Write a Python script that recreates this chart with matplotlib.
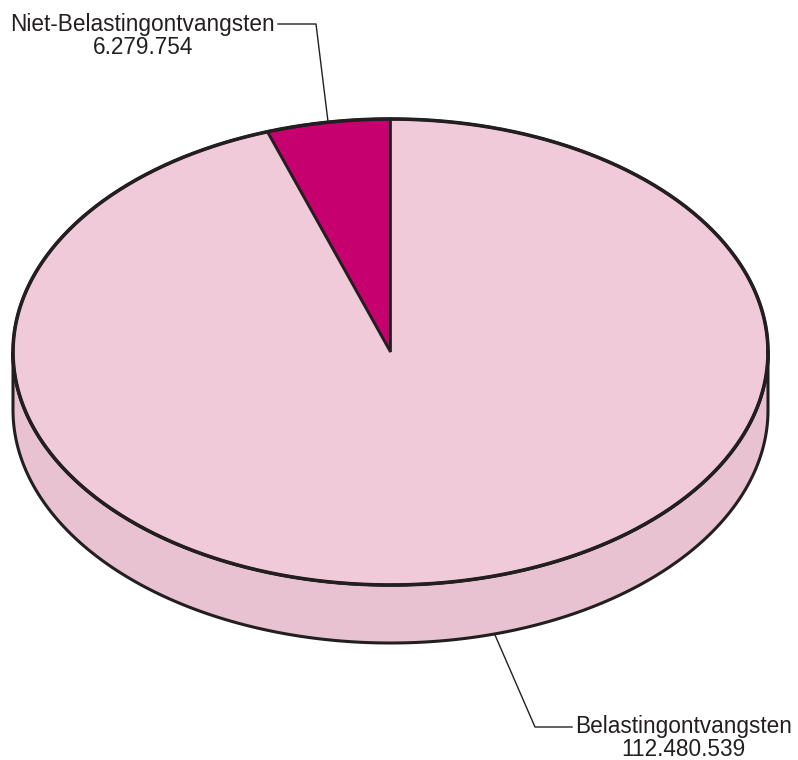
import numpy as np
import matplotlib
matplotlib.use('Agg')
import matplotlib.pyplot as plt
from matplotlib.patches import Polygon

labels = ['Niet-Belastingontvangsten', 'Belastingontvangsten']
values = [6279754, 112480539]
value_text = ['6.279.754', '112.480.539']
top_colors = ['#C6006F', '#F0CAD8']
side_color = '#E8C2D0'
edge = '#231F20'

# ellipse geometry in pixels
cx, cy = 390.5, 352
rx, ry = 377.5, 233
depth = 58

def pt(theta, dz=0):
    return cx + rx * np.cos(theta), cy - ry * np.sin(theta) + dz

fig = plt.figure(figsize=(7.98, 7.60), dpi=100)
ax = fig.add_axes([0, 0, 1, 1])
ax.set_xlim(0, 798)
ax.set_ylim(760, 0)
ax.axis('off')

# side (front half of the cylinder)
t = np.linspace(np.pi, 2 * np.pi, 300)
top_arc = np.column_stack(pt(t))
bot_arc = np.column_stack(pt(t[::-1], depth))
side = Polygon(np.vstack([top_arc, bot_arc]), closed=True, fc=side_color,
               ec=edge, lw=2.2, joinstyle='round')
ax.add_patch(side)

# top face wedges, starting at 12 o'clock going counterclockwise
fracs = np.array(values) / sum(values)
start = np.pi / 2
mids = []
for f, c in zip(fracs, top_colors):
    end = start + f * 2 * np.pi
    tt = np.linspace(start, end, 400)
    xs, ys = pt(tt)
    poly = np.vstack([[cx, cy], np.column_stack([xs, ys])])
    ax.add_patch(Polygon(poly, closed=True, fc=c, ec=edge, lw=2.0, joinstyle='miter'))
    mids.append((start + end) / 2)
    start = end

# outer rim on top
tt = np.linspace(0, 2 * np.pi, 600)
xs, ys = pt(tt)
ax.plot(xs, ys, color=edge, lw=2.6)

fs = 16.3
fam = ['Liberation Sans', 'DejaVu Sans']

# leader for the small slice
ax0, ay0 = pt(mids[0])
ax.plot([ax0, 316, 278], [ay0, 24, 24], color=edge, lw=1.0)
ax.text(275, 24, labels[0], ha='right', va='center', fontsize=fs, family=fam, color=edge)
ax.text(143, 47, value_text[0], ha='center', va='center', fontsize=fs, family=fam, color=edge)

# leader for the big slice (bottom of the side)
bx0, by0 = pt(np.deg2rad(286), depth)
ax.plot([bx0, 535, 572], [by0, 727, 727], color=edge, lw=1.0)
ax.text(575, 727, labels[1], ha='left', va='center', fontsize=fs, family=fam, color=edge)
ax.text(683, 750, value_text[1], ha='center', va='center', fontsize=fs, family=fam, color=edge)

fig.savefig('out.png', dpi=100)
